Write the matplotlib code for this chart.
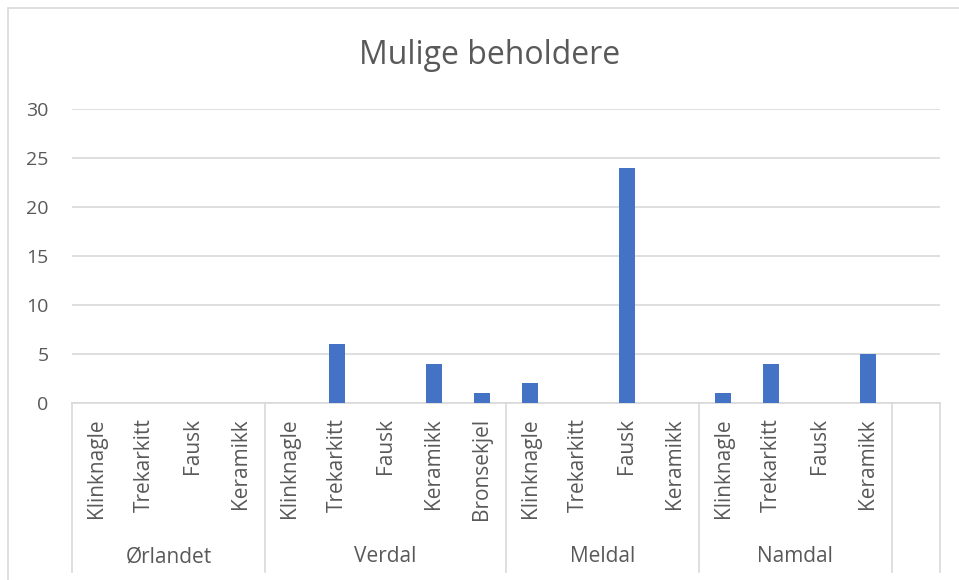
import matplotlib.pyplot as plt
import matplotlib.transforms as mtransforms
from matplotlib.patches import Rectangle

# Data
groups = ["Ørlandet", "Verdal", "Meldal", "Namdal"]
group_items = [
    ["Klinknagle", "Trekarkitt", "Fausk", "Keramikk"],
    ["Klinknagle", "Trekarkitt", "Fausk", "Keramikk", "Bronsekjel"],
    ["Klinknagle", "Trekarkitt", "Fausk", "Keramikk"],
    ["Klinknagle", "Trekarkitt", "Fausk", "Keramikk"],
]
group_values = [
    [0, 0, 0, 0],
    [0, 6, 0, 4, 1],
    [2, 0, 24, 0],
    [1, 4, 0, 5],
]

title = "Mulige beholdere"
bar_color = '#4472C4'
text_color = '#595959'
grid_color = '#D9D9D9'

plt.rcParams['font.family'] = ['Open Sans', 'DejaVu Sans']

W, H = 959, 580
fig = plt.figure(figsize=(W / 100, H / 100), dpi=100)
fig.patch.set_facecolor('white')

# chart border
fig.patches.append(Rectangle((8 / W, -0.1), 1.1, (H - 8) / H + 0.1, transform=fig.transFigure,
                             fill=False, edgecolor=grid_color, linewidth=1.2))

# plot area in pixels
left, right, top, bottom = 72, 940, 109, 403
ax = fig.add_axes([left / W, (H - bottom) / H, (right - left) / W, (bottom - top) / H])

labels = []
values = []
for items, vals in zip(group_items, group_values):
    labels += items
    values += vals
n_slots = len(labels) + 1  # one empty slot at the end
x = list(range(len(labels)))

ax.bar(x, values, width=0.33, color=bar_color, zorder=3)
ax.set_xlim(-0.5, n_slots - 0.5)
ax.set_ylim(0, 30)
ax.set_yticks(range(0, 31, 5))
ax.yaxis.grid(True, color=grid_color, linewidth=1.2)
ax.set_axisbelow(True)
ax.tick_params(axis='y', length=0, pad=17, labelsize=14, labelcolor=text_color)
ax.set_xticks([])
for side in ['left', 'right', 'top']:
    ax.spines[side].set_visible(False)
ax.spines['bottom'].set_color(grid_color)
ax.spines['bottom'].set_linewidth(1.2)

trans = mtransforms.blended_transform_factory(ax.transData, ax.transAxes)
ph = bottom - top
for xi, lab in zip(x, labels):
    ax.text(xi, -(418 - bottom) / ph, lab, rotation=90, ha='center', va='top',
            fontsize=15, color=text_color, transform=trans)

# group separators and labels
sep_bottom = -(572 - bottom) / ph
start = 0
for g, items in zip(groups, group_items):
    ax.plot([start - 0.5, start - 0.5], [0, sep_bottom], color=grid_color, lw=1.2,
            transform=trans, clip_on=False)
    center = start + (len(items) - 1) / 2
    ax.text(center, -(557 - bottom) / ph, g, ha='center', va='center',
            fontsize=15, color=text_color, transform=trans)
    start += len(items)
for xs in [start - 0.5, n_slots - 0.5]:
    ax.plot([xs, xs], [0, sep_bottom], color=grid_color, lw=1.2,
            transform=trans, clip_on=False)

fig.text(490 / W, (H - 56) / H, title, ha='center', va='center', fontsize=23, color=text_color)

fig.savefig('out.png', dpi=100)
